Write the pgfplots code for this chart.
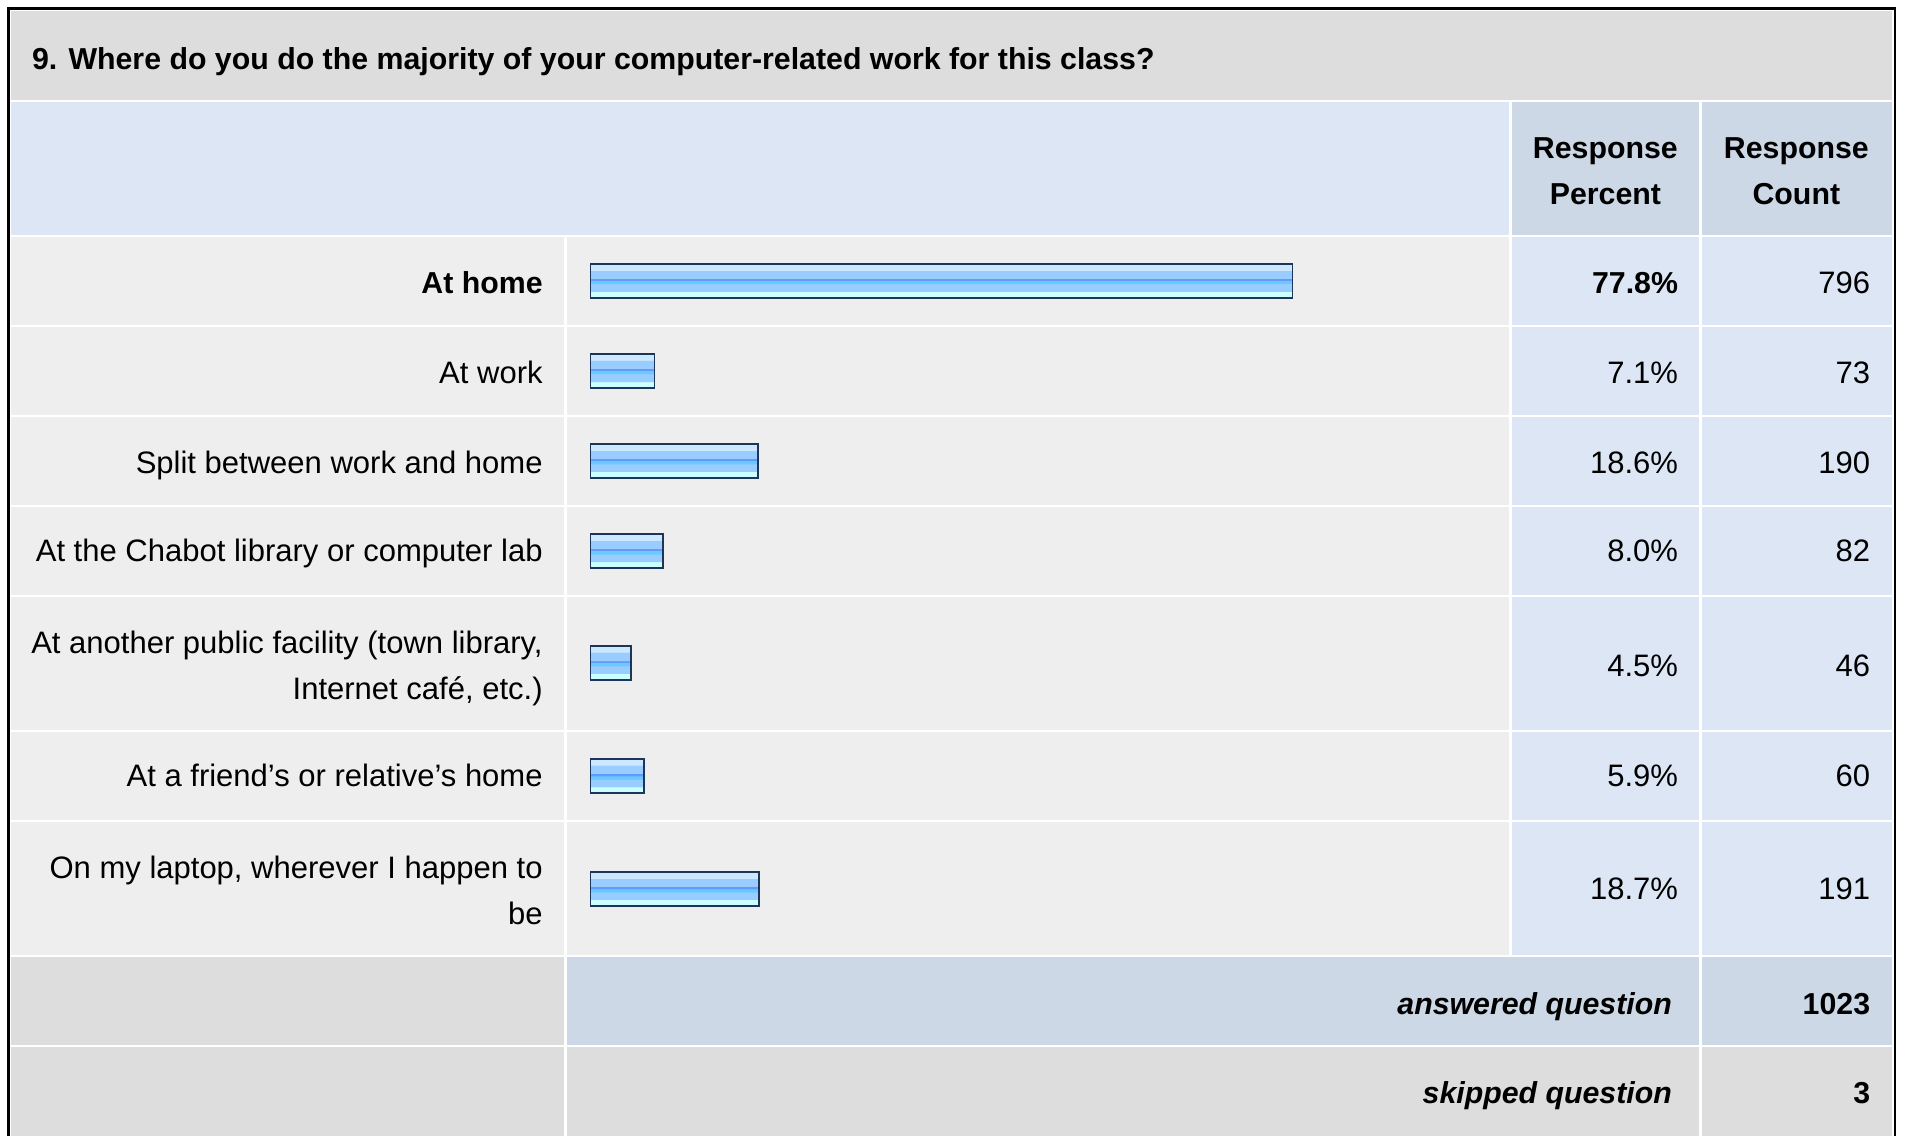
\documentclass[border=0pt]{standalone}
\usepackage{pgfplots}
\pgfplotsset{compat=1.18}
\usepackage{fontspec}
\setmainfont{Liberation Sans}

\definecolor{titlebg}{HTML}{DDDDDD}
\definecolor{rowbg}{HTML}{EEEEEE}
\definecolor{lightblue}{HTML}{DCE6F4}
\definecolor{headblue}{HTML}{CCD8E6}
\definecolor{barline}{HTML}{1C355A}
\definecolor{sA}{HTML}{CCFFFF}
\definecolor{sB}{HTML}{99CCFF}
\definecolor{sC}{HTML}{66CCFF}
\definecolor{sD}{HTML}{6699FF}
\definecolor{sE}{HTML}{CCE8FF}

% striped fill of the bars (bottom to top, path spans 25bp..75bp)
\pgfdeclareverticalshading{barstripes}{100bp}{color(0bp)=(sA); color(34bp)=(sA);
  color(34.2bp)=(sB); color(45.5bp)=(sB); color(45.7bp)=(sC); color(50bp)=(sC);
  color(50.2bp)=(sD); color(53.5bp)=(sD); color(53.7bp)=(sB); color(65.5bp)=(sB);
  color(65.7bp)=(sE); color(100bp)=(sE)}

\newcommand{\tf}{\fontsize{15.3}{22.8}\selectfont}
\newcommand{\bfx}{\fontsize{14.95}{22.8}\selectfont\bfseries}

\pgfplotsset{onebar/.style={xbar, bar width=28, bar shift=0pt,
  draw=barline, line width=0.9pt, shading=barstripes}}

\begin{document}
\begin{tikzpicture}
\begin{scope}[x=0.6pt,y=-0.6pt]
\path[use as bounding box] (0,0) rectangle (1568,934);
\fill[white] (0,0) rectangle (1568,934);
% title and header
\fill[titlebg] (9,9) rectangle (1556,82);
\fill[lightblue] (9,84) rectangle (1241,193);
\fill[headblue] (1243,84) rectangle (1397,193);
\fill[headblue] (1399.5,84) rectangle (1556,193);
% answer rows
\foreach \t/\b in {195/267,269/341,343/415,417/489,491/600,602/674,676/785}{
  \fill[rowbg] (9,\t) rectangle (464,\b);
  \fill[rowbg] (466.5,\t) rectangle (1241,\b);
  \fill[lightblue] (1243,\t) rectangle (1397,\b);
  \fill[lightblue] (1399.5,\t) rectangle (1556,\b);
}
% footer rows
\fill[titlebg] (9,787) rectangle (464,859);
\fill[headblue] (466.5,787) rectangle (1397,859);
\fill[headblue] (1399.5,787) rectangle (1556,859);
\fill[titlebg] (9,861) rectangle (464,934);
\fill[titlebg] (466.5,861) rectangle (1397,934);
\fill[titlebg] (1399.5,861) rectangle (1556,934);
% outer frame
\draw[black, line width=1.3pt] (6.8,934)--(6.8,6.8)--(1558,6.8)--(1558,934);

\tf
\node[anchor=base west, inner sep=0] at (26,57) {\bfx 9. Where do you do the majority of your computer-related work for this class?};
\node[anchor=base, inner sep=0] at (1320,130) {\bfx Response};
\node[anchor=base, inner sep=0] at (1320,168) {\bfx Percent};
\node[anchor=base, inner sep=0] at (1477,130) {\bfx Response};
\node[anchor=base, inner sep=0] at (1477,168) {\bfx Count};

% labels
\node[anchor=base east, inner sep=0] at (446.5,241) {\bfx At home};
\node[anchor=base east, inner sep=0] at (446.5,315) {At work};
\node[anchor=base east, inner sep=0] at (446.5,389) {Split between work and home};
\node[anchor=base east, inner sep=0] at (446.5,462) {At the Chabot library or computer lab};
\node[anchor=base east, inner sep=0] at (446.5,537) {At another public facility (town library,};
\node[anchor=base east, inner sep=0] at (446.5,575) {Internet café, etc.)};
\node[anchor=base east, inner sep=0] at (446.5,647) {At a friend’s or relative’s home};
\node[anchor=base east, inner sep=0] at (446.5,722) {On my laptop, wherever I happen to};
\node[anchor=base east, inner sep=0] at (446.5,760) {be};

% percents and counts
\node[anchor=base east, inner sep=0] at (1380,241) {\bfx 77.8\%};
\node[anchor=base east, inner sep=0] at (1380,315) {7.1\%};
\node[anchor=base east, inner sep=0] at (1380,389) {18.6\%};
\node[anchor=base east, inner sep=0] at (1380,462) {8.0\%};
\node[anchor=base east, inner sep=0] at (1380,556) {4.5\%};
\node[anchor=base east, inner sep=0] at (1380,647) {5.9\%};
\node[anchor=base east, inner sep=0] at (1380,740) {18.7\%};
\node[anchor=base east, inner sep=0] at (1538,241) {796};
\node[anchor=base east, inner sep=0] at (1538,315) {73};
\node[anchor=base east, inner sep=0] at (1538,389) {190};
\node[anchor=base east, inner sep=0] at (1538,462) {82};
\node[anchor=base east, inner sep=0] at (1538,556) {46};
\node[anchor=base east, inner sep=0] at (1538,647) {60};
\node[anchor=base east, inner sep=0] at (1538,740) {191};

\node[anchor=base east, inner sep=0] at (1375,834) {\bfx\itshape answered question};
\node[anchor=base east, inner sep=0] at (1538,834) {\bfx 1023};
\node[anchor=base east, inner sep=0] at (1375,907) {\bfx\itshape skipped question};
\node[anchor=base east, inner sep=0] at (1538,907) {\bfx 3};
\end{scope}

% the bars: response percent, one plot per answer so each gets its own stripes
\begin{axis}[
  at={(291.3pt,-560.4pt)}, anchor=south west,
  scale only axis, width=445.2pt, height=560.4pt,
  hide axis, clip=false,
  xmin=0, xmax=100, ymin=0, ymax=934, y dir=reverse,
]
\addplot[onebar] coordinates {(77.8,231)};
\addplot[onebar] coordinates {(7.1,305)};
\addplot[onebar] coordinates {(18.6,379)};
\addplot[onebar] coordinates {(8.0,453)};
\addplot[onebar] coordinates {(4.5,545)};
\addplot[onebar] coordinates {(5.9,638)};
\addplot[onebar] coordinates {(18.7,731)};
\end{axis}
\end{tikzpicture}
\end{document}
